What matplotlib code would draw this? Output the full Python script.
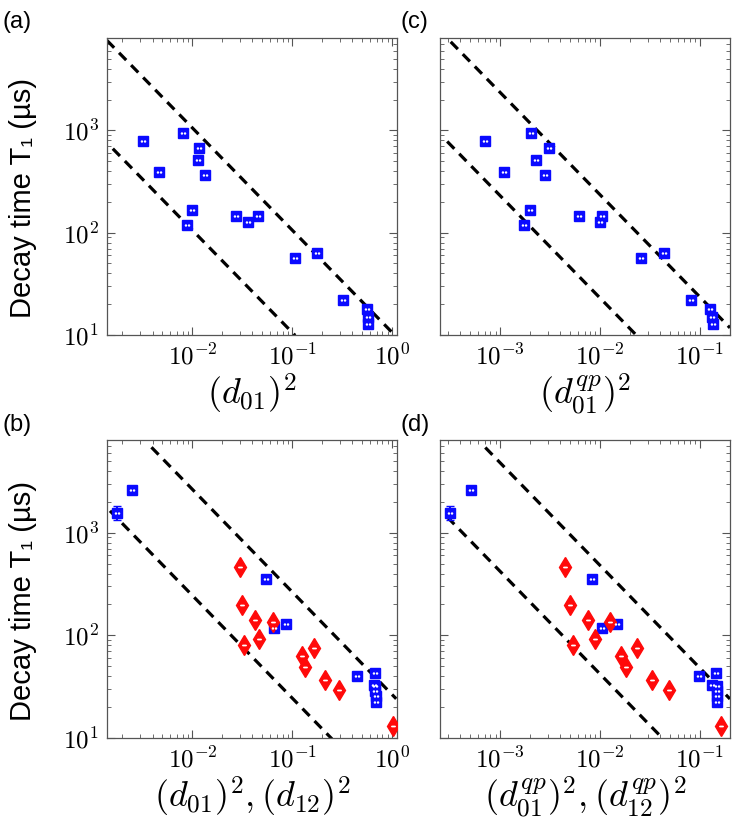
import numpy as np
import matplotlib
matplotlib.use("Agg")
import matplotlib.pyplot as plt
from matplotlib.ticker import FuncFormatter

plt.rcParams['mathtext.fontset'] = 'cm'

# panel (a)/(c): blue squares, T1 in us
t1_ac = [785, 392, 949, 670, 519, 369, 166, 120, 146, 126, 146, 56.8, 63.5, 22.1, 17.9, 15.1, 12.7]
d01_a = [0.00324, 0.00464, 0.0080, 0.0118, 0.0113, 0.0134, 0.0100, 0.00885, 0.0273, 0.0363,
         0.045, 0.106, 0.178, 0.319, 0.562, 0.575, 0.575]
d01qp_c = [7.13e-4, 0.00109, 0.00203, 0.00307, 0.00229, 0.0028, 0.0020, 0.00175, 0.00612, 0.0100,
           0.0104, 0.0255, 0.044, 0.0807, 0.126, 0.132, 0.135]

# panel (b)/(d): blue squares (0-1 transitions)
t1_bd_blue = [1567, 2608, 351, 117, 130, 40.6, 42.5, 33.1, 31.9, 28.5, 25.9, 22.3]
d01_b = [0.00178, 0.00251, 0.0549, 0.066, 0.0865, 0.447, 0.67, 0.66, 0.68, 0.68, 0.69, 0.69]
d01qp_d = [3.16e-4, 5.09e-4, 0.00826, 0.0104, 0.0147, 0.0977, 0.1445, 0.133, 0.147, 0.149, 0.149, 0.149]
err_bd_blue = [250, 0, 0, 0, 0, 0, 0, 0, 0, 0, 0, 0]

# panel (b)/(d): red diamonds (1-2 transitions)
t1_bd_red = [466, 197, 140, 80.2, 93, 134, 63.5, 49.3, 74.5, 36.6, 29.2, 13.2]
d12_b = [0.030, 0.0316, 0.042, 0.0329, 0.0468, 0.0636, 0.126, 0.134, 0.165, 0.212, 0.295, 1.02]
d12qp_d = [0.0045, 0.00505, 0.00753, 0.0054, 0.00885, 0.0126, 0.0162, 0.0182, 0.0234, 0.0334, 0.049, 0.162]

# guide lines T1 = C / d^2 : (C, x start, x end)
guides_a = [(10.6, 0.0014, 1.0), (1.06, 0.0016, 0.107)]
guides_b = [(26.5, 0.0039, 1.1), (2.45, 0.0015, 0.25)]
guides_c = [(2.35, 3.2e-4, 0.2), (0.23, 2.95e-4, 0.023)]
guides_d = [(4.8, 7.1e-4, 0.2), (0.42, 2.95e-4, 0.042)]

xlim_ad = (0.0014, 1.12)
xlim_cd = (2.5e-4, 0.2)
ylim = (10, 8000)

xlabels = {'a': r'$(d_{01})^2$', 'c': r'$(d_{01}^{qp})^2$',
           'b': r'$(d_{01})^2, (d_{12})^2$', 'd': r'$(d_{01}^{qp})^2, (d_{12}^{qp})^2$'}

BLUE = '#0a0aff'
RED = '#ff0a0a'

fig = plt.figure(figsize=(7.4, 8.23), dpi=100)
W, H = 740, 823


def make_ax(x0, y0, x1, y1):
    return fig.add_axes([x0 / W, 1 - y1 / H, (x1 - x0) / W, (y1 - y0) / H])


ax_a = make_ax(107, 38, 397, 335)
ax_c = make_ax(440, 38, 730, 335)
ax_b = make_ax(107, 440, 397, 738)
ax_d = make_ax(440, 440, 730, 738)


def blue_pts(ax, x, y, yerr=None):
    if yerr is not None:
        ax.errorbar(x, y, yerr=yerr, fmt='none', ecolor=BLUE, elinewidth=1.5, capsize=3, zorder=3)
    ax.plot(x, y, 's', color=BLUE, ms=6.5, mec=BLUE, zorder=4)
    ax.plot(x, y, ls='none', marker='$\u2025$', color='white', ms=3, zorder=5)


def red_pts(ax, x, y):
    ax.plot(x, y, 'd', color=RED, ms=10, mec=RED, zorder=4)
    ax.plot(x, y, ls='none', marker='$-$', color='white', ms=2.5, zorder=5)


def guides(ax, g):
    for c, xs, xe in g:
        xx = np.array([xs, xe])
        ax.plot(xx, c / xx, color='black', lw=2.3, dashes=(3.2, 2.2), zorder=2)


pow_fmt = FuncFormatter(lambda v, p: r'$10^{%d}$' % round(np.log10(v)))


def style(ax, xlim, key, left):
    ax.set_xscale('log')
    ax.set_yscale('log')
    ax.set_xlim(*xlim)
    ax.set_ylim(*ylim)
    ax.xaxis.set_major_formatter(pow_fmt)
    ax.yaxis.set_major_formatter(pow_fmt)
    ax.tick_params(which='both', direction='in', top=True, right=True, labelsize=18, pad=6)
    ax.tick_params(which='major', length=6, width=0.8, color='#555555')
    ax.tick_params(which='minor', length=3, width=0.6, color='#555555')
    for s in ax.spines.values():
        s.set_color('#555555')
        s.set_linewidth(0.9)
    ax.set_xlabel(xlabels[key], fontsize=26, labelpad=2)
    if left:
        ax.set_ylabel('Decay time T\u2081 (\u00b5s)', fontsize=21,
                      family=['Liberation Sans Narrow', 'Liberation Sans', 'DejaVu Sans'])
        ax.yaxis.set_label_coords(-0.24, 0.46)
    else:
        ax.tick_params(axis='y', which='both', labelleft=False)


guides(ax_a, guides_a)
blue_pts(ax_a, d01_a, t1_ac)
style(ax_a, xlim_ad, 'a', True)

guides(ax_c, guides_c)
blue_pts(ax_c, d01qp_c, t1_ac)
style(ax_c, xlim_cd, 'c', False)

guides(ax_b, guides_b)
blue_pts(ax_b, d01_b, t1_bd_blue, err_bd_blue)
red_pts(ax_b, d12_b, t1_bd_red)
style(ax_b, xlim_ad, 'b', True)

guides(ax_d, guides_d)
blue_pts(ax_d, d01qp_d, t1_bd_blue, err_bd_blue)
red_pts(ax_d, d12qp_d, t1_bd_red)
style(ax_d, xlim_cd, 'd', False)

lab_font = ['Liberation Sans Narrow', 'Liberation Sans', 'DejaVu Sans']
for txt, px, py in [('(a)', 2, 22), ('(c)', 400, 22), ('(b)', 2, 425), ('(d)', 400, 425)]:
    fig.text(px / W, 1 - py / H, txt, fontsize=17, family=lab_font, ha='left', va='center')

fig.savefig('out.png', dpi=100)
